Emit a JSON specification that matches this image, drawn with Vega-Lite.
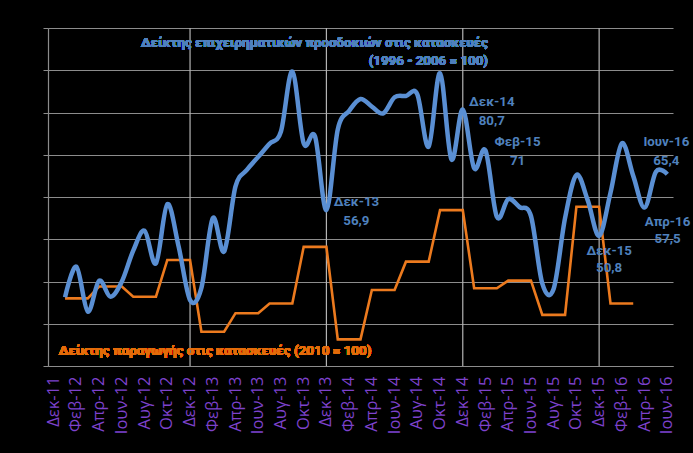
{
  "$schema": "https://vega.github.io/schema/vega-lite/v6.json",
  "width": 625,
  "height": 338,
  "autosize": {"type": "none"},
  "padding": {"left": 48, "top": 28, "right": 20, "bottom": 87},
  "background": "#000000",
  "config": {
    "view": {"stroke": null},
    "font": "Roboto"
  },
  "data": {
    "values": [
      {"m": "Ιαν-12", "b": 36.3, "o": 36.0},
      {"m": "Φεβ-12", "b": 43.5, "o": 36.0},
      {"m": "Μαρ-12", "b": 32.9, "o": 36.0},
      {"m": "Απρ-12", "b": 40.2, "o": 38.8},
      {"m": "Μαϊ-12", "b": 36.4, "o": 38.8},
      {"m": "Ιουν-12", "b": 40.0, "o": 38.8},
      {"m": "Ιουλ-12", "b": 47.3, "o": 36.4},
      {"m": "Αυγ-12", "b": 52.0, "o": 36.4},
      {"m": "Σεπ-12", "b": 44.3, "o": 36.4},
      {"m": "Οκτ-12", "b": 58.3, "o": 45.1},
      {"m": "Νοε-12", "b": 48.2, "o": 45.1},
      {"m": "Δεκ-12", "b": 35.6, "o": 45.1},
      {"m": "Ιαν-13", "b": 38.5, "o": 28.1},
      {"m": "Φεβ-13", "b": 55.0, "o": 28.1},
      {"m": "Μαρ-13", "b": 47.1, "o": 28.1},
      {"m": "Απρ-13", "b": 62.5, "o": 32.5},
      {"m": "Μαϊ-13", "b": 66.4, "o": 32.5},
      {"m": "Ιουν-13", "b": 69.5, "o": 32.5},
      {"m": "Ιουλ-13", "b": 72.6, "o": 34.8},
      {"m": "Αυγ-13", "b": 75.5, "o": 34.8},
      {"m": "Σεπ-13", "b": 89.7, "o": 34.8},
      {"m": "Οκτ-13", "b": 72.7, "o": 48.2},
      {"m": "Νοε-13", "b": 74.3, "o": 48.2},
      {"m": "Δεκ-13", "b": 56.9, "o": 48.2},
      {"m": "Ιαν-14", "b": 76.0, "o": 26.3},
      {"m": "Φεβ-14", "b": 80.4, "o": 26.3},
      {"m": "Μαρ-14", "b": 83.2, "o": 26.3},
      {"m": "Απρ-14", "b": 81.4, "o": 38.0},
      {"m": "Μαϊ-14", "b": 79.8, "o": 38.0},
      {"m": "Ιουν-14", "b": 83.6, "o": 38.0},
      {"m": "Ιουλ-14", "b": 83.9, "o": 44.7},
      {"m": "Αυγ-14", "b": 84.3, "o": 44.7},
      {"m": "Σεπ-14", "b": 71.9, "o": 44.7},
      {"m": "Οκτ-14", "b": 89.3, "o": 56.9},
      {"m": "Νοε-14", "b": 68.9, "o": 56.9},
      {"m": "Δεκ-14", "b": 80.7, "o": 56.9},
      {"m": "Ιαν-15", "b": 66.8, "o": 38.4},
      {"m": "Φεβ-15", "b": 71.0, "o": 38.4},
      {"m": "Μαρ-15", "b": 55.3, "o": 38.4},
      {"m": "Απρ-15", "b": 59.5, "o": 40.2},
      {"m": "Μαϊ-15", "b": 57.6, "o": 40.2},
      {"m": "Ιουν-15", "b": 55.5, "o": 40.2},
      {"m": "Ιουλ-15", "b": 39.5, "o": 32.1},
      {"m": "Αυγ-15", "b": 38.3, "o": 32.1},
      {"m": "Σεπ-15", "b": 55.0, "o": 32.1},
      {"m": "Οκτ-15", "b": 65.2, "o": 57.7},
      {"m": "Νοε-15", "b": 59.2, "o": 57.7},
      {"m": "Δεκ-15", "b": 50.8, "o": 57.7},
      {"m": "Ιαν-16", "b": 61.0, "o": 34.8},
      {"m": "Φεβ-16", "b": 72.7, "o": 34.8},
      {"m": "Μαρ-16", "b": 65.0, "o": 34.8},
      {"m": "Απρ-16", "b": 57.5, "o": null},
      {"m": "Μαϊ-16", "b": 66.0, "o": null},
      {"m": "Ιουν-16", "b": 65.4, "o": null}
    ]
  },
  "layer": [
    {
      "transform": [{"filter": {"field": "m", "oneOf": ["Δεκ-12", "Δεκ-13", "Δεκ-14", "Δεκ-15"]}}],
      "mark": {"type": "rule", "color": "#B4B4B4", "strokeWidth": 1.2},
      "encoding": {
        "x": {"field": "m", "type": "ordinal", "title": null}
      }
    },
    {
      "mark": {"type": "line", "color": "#EC7A1E", "strokeWidth": 2.6, "interpolate": "linear"},
      "encoding": {
        "x": {
          "field": "m", "type": "ordinal", "title": null,
          "scale": {"domain": ["Δεκ-11","Ιαν-12","Φεβ-12","Μαρ-12","Απρ-12","Μαϊ-12","Ιουν-12","Ιουλ-12","Αυγ-12","Σεπ-12","Οκτ-12","Νοε-12","Δεκ-12","Ιαν-13","Φεβ-13","Μαρ-13","Απρ-13","Μαϊ-13","Ιουν-13","Ιουλ-13","Αυγ-13","Σεπ-13","Οκτ-13","Νοε-13","Δεκ-13","Ιαν-14","Φεβ-14","Μαρ-14","Απρ-14","Μαϊ-14","Ιουν-14","Ιουλ-14","Αυγ-14","Σεπ-14","Οκτ-14","Νοε-14","Δεκ-14","Ιαν-15","Φεβ-15","Μαρ-15","Απρ-15","Μαϊ-15","Ιουν-15","Ιουλ-15","Αυγ-15","Σεπ-15","Οκτ-15","Νοε-15","Δεκ-15","Ιαν-16","Φεβ-16","Μαρ-16","Απρ-16","Μαϊ-16","Ιουν-16"]},
          "axis": {
            "title": null,
            "values": ["Δεκ-11","Φεβ-12","Απρ-12","Ιουν-12","Αυγ-12","Οκτ-12","Δεκ-12","Φεβ-13","Απρ-13","Ιουν-13","Αυγ-13","Οκτ-13","Δεκ-13","Φεβ-14","Απρ-14","Ιουν-14","Αυγ-14","Οκτ-14","Δεκ-14","Φεβ-15","Απρ-15","Ιουν-15","Αυγ-15","Οκτ-15","Δεκ-15","Φεβ-16","Απρ-16","Ιουν-16"],
            "labelAngle": -90,
            "labelAlign": "right",
            "labelBaseline": "middle",
            "labelColor": "#7D42CC",
            "labelFont": "Open Sans",
            "labelFontSize": 16.5,
            "labelPadding": 10,
            "ticks": false,
            "tickSize": 0,
            "domain": true,
            "domainColor": "#8C8C8C",
            "domainWidth": 1.2,
            "grid": false
          }
        },
        "y": {
          "field": "o", "type": "quantitative", "title": null,
          "scale": {"domain": [20, 100], "nice": false, "zero": false},
          "axis": {
            "title": null,
            "values": [20, 30, 40, 50, 60, 70, 80, 90, 100],
            "labels": false,
            "ticks": true,
            "tickSize": 5,
            "tickColor": "#8C8C8C",
            "domain": true,
            "domainColor": "#8C8C8C",
            "domainWidth": 1.2,
            "grid": true,
            "gridColor": "#8C8C8C",
            "gridWidth": 1.2
          }
        }
      }
    },
    {
      "mark": {"type": "line", "color": "#5A8FD3", "strokeWidth": 4.5, "interpolate": "cardinal"},
      "encoding": {
        "x": {"field": "m", "type": "ordinal", "title": null},
        "y": {"field": "b", "type": "quantitative", "title": null}
      }
    },
    {
      "mark": {"type": "text", "text": ["Δείκτης επιχειρηματικών προσδοκιών στις κατασκευές", "(1996 - 2006 = 100)"], "align": "right", "baseline": "middle", "dx": 48, "lineHeight": 18, "font": "Roboto", "fontWeight": "bold", "fontSize": 13.3, "color": "#4F81BD"},
      "encoding": {
        "x": {"datum": "Οκτ-14", "type": "ordinal", "title": null},
        "y": {"datum": 96.45, "type": "quantitative", "title": null}
      }
    },
    {
      "mark": {"type": "text", "text": "Δείκτης παραγωγής στις κατασκευές (2010 = 100)", "align": "left", "baseline": "middle", "dx": 5, "font": "Roboto", "fontWeight": "bold", "fontSize": 13.4, "color": "#E46C0A"},
      "encoding": {
        "x": {"datum": "Δεκ-11", "type": "ordinal", "title": null},
        "y": {"datum": 23.55, "type": "quantitative", "title": null}
      }
    },
    {
      "transform": [{"filter": "datum.m === 'Δεκ-13'"}],
      "mark": {"type": "text", "text": ["Δεκ-13", "56,9"], "align": "center", "baseline": "middle", "dx": 30, "dy": -8.5, "lineHeight": 19, "font": "Roboto", "fontWeight": "bold", "fontSize": 13.3, "color": "#4F81BD"},
      "encoding": {
        "x": {"field": "m", "type": "ordinal", "title": null},
        "y": {"field": "b", "type": "quantitative", "title": null}
      }
    },
    {
      "transform": [{"filter": "datum.m === 'Δεκ-14'"}],
      "mark": {"type": "text", "text": ["Δεκ-14", "80,7"], "align": "center", "baseline": "middle", "dx": 29, "dy": -7.5, "lineHeight": 19, "font": "Roboto", "fontWeight": "bold", "fontSize": 13.3, "color": "#4F81BD"},
      "encoding": {
        "x": {"field": "m", "type": "ordinal", "title": null},
        "y": {"field": "b", "type": "quantitative", "title": null}
      }
    },
    {
      "transform": [{"filter": "datum.m === 'Φεβ-15'"}],
      "mark": {"type": "text", "text": ["Φεβ-15", "71"], "align": "center", "baseline": "middle", "dx": 32, "dy": -8.5, "lineHeight": 19, "font": "Roboto", "fontWeight": "bold", "fontSize": 13.3, "color": "#4F81BD"},
      "encoding": {
        "x": {"field": "m", "type": "ordinal", "title": null},
        "y": {"field": "b", "type": "quantitative", "title": null}
      }
    },
    {
      "transform": [{"filter": "datum.m === 'Ιουν-16'"}],
      "mark": {"type": "text", "text": ["Ιουν-16", "65,4"], "align": "center", "baseline": "middle", "dx": -1, "dy": -32, "lineHeight": 19, "font": "Roboto", "fontWeight": "bold", "fontSize": 13.3, "color": "#4F81BD"},
      "encoding": {
        "x": {"field": "m", "type": "ordinal", "title": null},
        "y": {"field": "b", "type": "quantitative", "title": null}
      }
    },
    {
      "transform": [{"filter": "datum.m === 'Απρ-16'"}],
      "mark": {"type": "text", "text": ["Απρ-16", "57,5"], "align": "center", "baseline": "middle", "dx": 23, "dy": 14.5, "lineHeight": 17, "font": "Roboto", "fontWeight": "bold", "fontSize": 13.3, "color": "#4F81BD"},
      "encoding": {
        "x": {"field": "m", "type": "ordinal", "title": null},
        "y": {"field": "b", "type": "quantitative", "title": null}
      }
    },
    {
      "transform": [{"filter": "datum.m === 'Δεκ-15'"}],
      "mark": {"type": "text", "text": ["Δεκ-15", "50,8"], "align": "center", "baseline": "middle", "dx": 10, "dy": 15.5, "lineHeight": 17, "font": "Roboto", "fontWeight": "bold", "fontSize": 13.3, "color": "#4F81BD"},
      "encoding": {
        "x": {"field": "m", "type": "ordinal", "title": null},
        "y": {"field": "b", "type": "quantitative", "title": null}
      }
    }
  ]
}
